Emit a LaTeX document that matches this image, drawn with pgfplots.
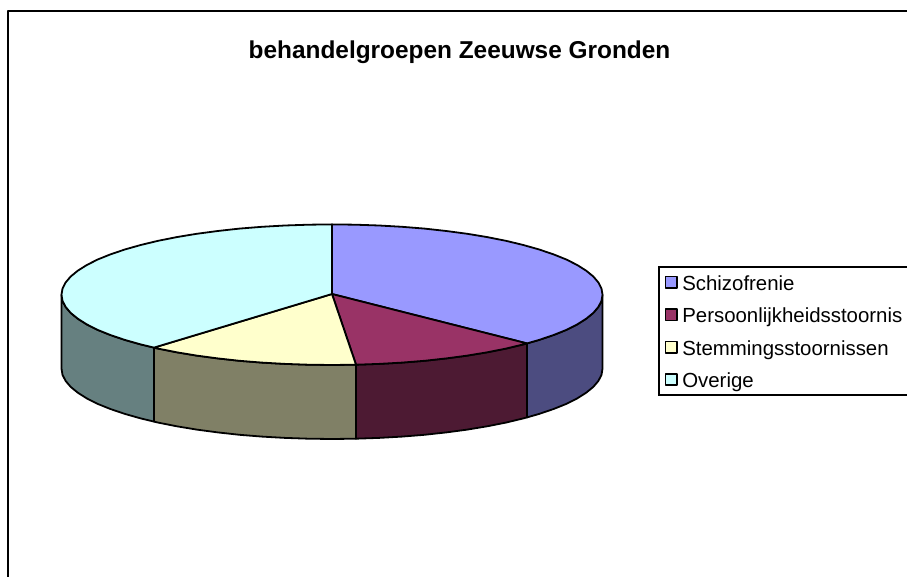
\documentclass[border=0pt]{standalone}
\usepackage{pgfplots}
\pgfplotsset{compat=1.18}
\usepackage{fontspec}
\setmainfont{Liberation Sans}
\definecolor{cA}{HTML}{9999FF}
\definecolor{cB}{HTML}{993366}
\definecolor{cC}{HTML}{FFFFCC}
\definecolor{cD}{HTML}{CCFFFF}
\definecolor{sA}{HTML}{4C4C80}
\definecolor{sB}{HTML}{4D1A33}
\definecolor{sC}{HTML}{808066}
\definecolor{sD}{HTML}{668080}
\begin{document}
\begin{tikzpicture}
\path[use as bounding box,clip] (0,0) rectangle (907pt,577pt);
\begin{axis}[
  at={(0,0)},anchor=south west,
  scale only axis,width=907pt,height=577pt,
  xmin=0,xmax=907,ymin=0,ymax=577,y dir=reverse,
  hide axis,clip=false,
  title={behandelgroepen Zeeuwse Gronden},
  title style={at={(axis cs:459.5,58)},anchor=center,yshift=0pt,font=\fontsize{24.4}{28}\selectfont\bfseries,inner sep=0pt},
  legend cell align=left,
  legend image code/.code={\draw[#1,line width=1.5pt] (0pt,-5.7pt) rectangle (11.5pt,5.7pt);},
  legend style={at={(axis cs:658,266)},anchor=north west,draw=black,line width=1.6pt,
    font=\fontsize{20.4}{24}\selectfont,row sep=11.4pt,inner xsep=6pt,inner ysep=5pt,
    nodes={inner xsep=4.5pt,inner ysep=1pt,text height=17.5pt,text depth=1.5pt}},
  every axis plot/.append style={line width=1.8pt,mark=none,line join=round},
]
% frame, open at the right and the bottom of the picture
\addplot[forget plot,draw=black,line width=1.9pt] coordinates {(8,577)(8,11)(907,11)};
% side walls
\addplot[forget plot,fill=sA,draw=black] coordinates {
(602.5,294.7)(601.5,300.8)(598.4,306.9)(593.3,312.9)(586.2,318.7)(577.2,324.4)(566.3,329.9)(553.6,335.0)(539.2,339.9)(527.0,343.4)
(527.0,417.4)(539.2,413.9)(553.6,409.0)(566.3,403.9)(577.2,398.4)(586.2,392.7)(593.3,386.9)(598.4,380.9)(601.5,374.8)(602.5,368.7)} --cycle;
\addplot[forget plot,fill=sB,draw=black] coordinates {
(527.0,343.4)(523.3,344.4)(505.9,348.6)(487.2,352.3)(467.3,355.6)(446.3,358.4)(424.5,360.8)(402.0,362.6)(379.0,363.9)(356.0,364.7)
(356.0,438.7)(379.0,437.9)(402.0,436.6)(424.5,434.8)(446.3,432.4)(467.3,429.6)(487.2,426.3)(505.9,422.6)(523.3,418.4)(527.0,417.4)} --cycle;
\addplot[forget plot,fill=sC,draw=black] coordinates {
(356.0,364.7)(332.0,365.0)(308.4,364.7)(285.0,363.9)(262.0,362.6)(239.5,360.8)(217.7,358.4)(196.7,355.6)(176.8,352.3)(158.1,348.6)(154.0,347.6)
(154.0,421.6)(158.1,422.6)(176.8,426.3)(196.7,429.6)(217.7,432.4)(239.5,434.8)(262.0,436.6)(285.0,437.9)(308.4,438.7)(332.0,439.0)(356.0,438.7)} --cycle;
\addplot[forget plot,fill=sD,draw=black] coordinates {
(154.0,347.6)(140.7,344.4)(124.8,339.9)(110.4,335.0)(97.7,329.9)(86.8,324.4)(77.8,318.7)(70.7,312.9)(65.6,306.9)(62.5,300.8)(61.5,294.7)
(61.5,368.7)(62.5,374.8)(65.6,380.9)(70.7,386.9)(77.8,392.7)(86.8,398.4)(97.7,403.9)(110.4,409.0)(124.8,413.9)(140.7,418.4)(154.0,421.6)} --cycle;
% top faces
\addplot[fill=cA,draw=black] coordinates {
(332,294)(332.0,224.4)(355.6,224.7)(379.0,225.5)(402.0,226.8)(424.5,228.6)(446.3,231.0)(467.3,233.8)(487.2,237.1)(505.9,240.8)(523.3,245.0)(539.2,249.5)(553.6,254.4)(566.3,259.5)(577.2,265.0)(586.2,270.7)(593.3,276.5)(598.4,282.5)(601.5,288.6)(602.5,294.7)(601.5,300.8)(598.4,306.9)(593.3,312.9)(586.2,318.7)(577.2,324.4)(566.3,329.9)(553.6,335.0)(539.2,339.9)(527.0,343.4)} --cycle;
\addlegendentry{Schizofrenie}
\addplot[fill=cB,draw=black] coordinates {
(332,294)(527.0,343.4)(523.3,344.4)(505.9,348.6)(487.2,352.3)(467.3,355.6)(446.3,358.4)(424.5,360.8)(402.0,362.6)(379.0,363.9)(356.0,364.7)} --cycle;
\addlegendentry{Persoonlijkheidsstoornis}
\addplot[fill=cC,draw=black] coordinates {
(332,294)(356.0,364.7)(332.0,365.0)(308.4,364.7)(285.0,363.9)(262.0,362.6)(239.5,360.8)(217.7,358.4)(196.7,355.6)(176.8,352.3)(158.1,348.6)(154.0,347.6)} --cycle;
\addlegendentry{Stemmingsstoornissen}
\addplot[fill=cD,draw=black] coordinates {
(332,294)(154.0,347.6)(140.7,344.4)(124.8,339.9)(110.4,335.0)(97.7,329.9)(86.8,324.4)(77.8,318.7)(70.7,312.9)(65.6,306.9)(62.5,300.8)(61.5,294.7)(62.5,288.6)(65.6,282.5)(70.7,276.5)(77.8,270.7)(86.8,265.0)(97.7,259.5)(110.4,254.4)(124.8,249.5)(140.7,245.0)(158.1,240.8)(176.8,237.1)(196.7,233.8)(217.7,231.0)(239.5,228.6)(262.0,226.8)(285.0,225.5)(308.4,224.7)(332.0,224.4)} --cycle;
\addlegendentry{Overige}
\end{axis}
\end{tikzpicture}
\end{document}
